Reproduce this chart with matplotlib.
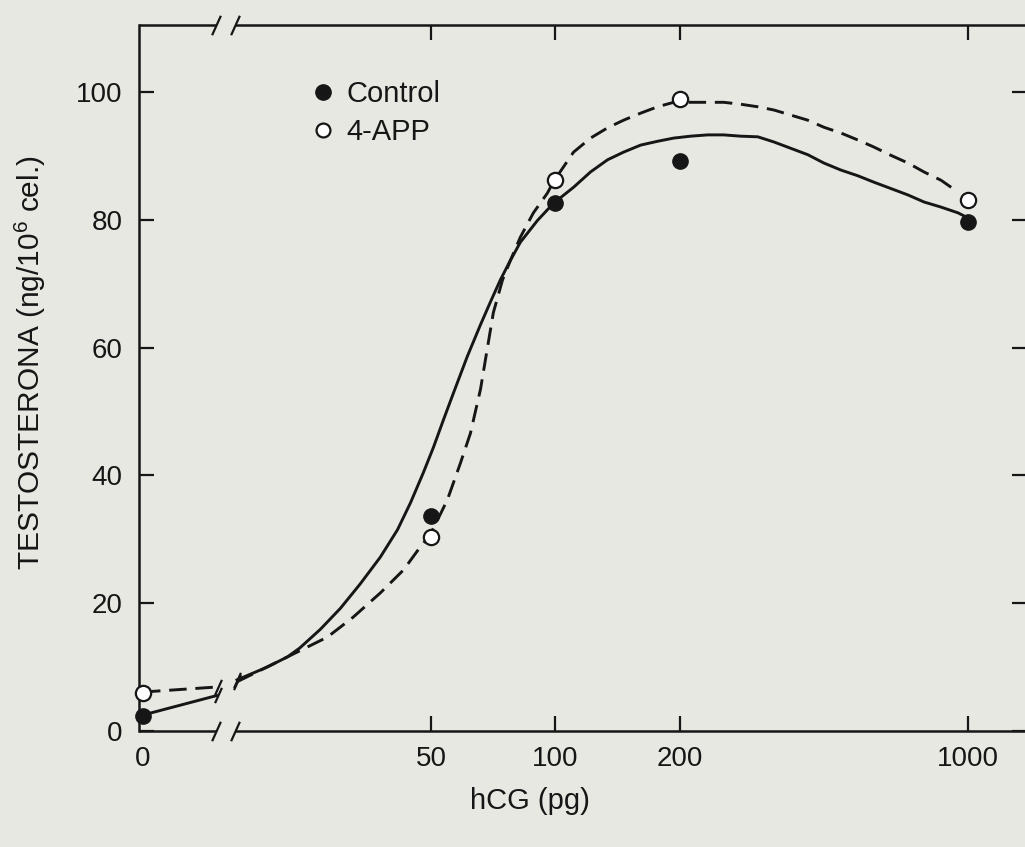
import numpy as np
import matplotlib
matplotlib.use("Agg")
import matplotlib.pyplot as plt
from matplotlib.lines import Line2D

plt.rcParams['font.family'] = ['Liberation Sans', 'DejaVu Sans']
plt.rcParams['mathtext.fontset'] = 'custom'
plt.rcParams['mathtext.rm'] = 'Liberation Sans'
plt.rcParams['mathtext.default'] = 'regular'

# data (hCG dose in pg, testosterone ng/10^6 cells)
dose = [0, 50, 100, 200, 1000]
control = [2.3, 33.6, 82.7, 89.2, 79.7]
app4 = [5.9, 30.3, 86.2, 98.9, 83.1]

# hand-drawn fitted curves
ctrl_lo_x = [0, 15.2]
ctrl_lo_y = [2.5, 5.6]
ctrl_x = [16.9, 20.0, 22.4, 24.0, 26.9, 30.1, 33.6, 37.6, 41.4, 44.5, 47.8, 50.6,
          53.5, 56.5, 61.1, 65.8, 69.6, 73.5, 77.8, 82.2, 90.4, 98.9, 110.6,
          121.6, 133.7, 146.2, 160.8, 176.8, 193.4, 212.6, 233.8, 255.7, 281.2,
          309.3, 338.2, 371.9, 408.9, 447.2, 491.7, 540.8, 591.3, 650.4, 715.2,
          782.2, 860.2, 945.6, 1000]
ctrl_y = [8.0, 10.0, 11.6, 13.0, 15.9, 19.2, 23.0, 27.2, 31.5, 35.7, 40.4, 44.4,
          48.7, 52.8, 58.6, 63.6, 67.2, 70.6, 73.7, 76.5, 79.9, 82.6, 85.1,
          87.5, 89.4, 90.6, 91.7, 92.3, 92.8, 93.1, 93.3, 93.3, 93.1,
          93.0, 92.2, 91.2, 90.2, 88.9, 87.8, 86.9, 85.9, 84.9, 83.9,
          82.8, 82.0, 81.1, 80.3]

app_lo_x = [0, 15.2]
app_lo_y = [6.1, 6.9]
app_x = [16.9, 22.4, 28.0, 32.3, 37.6, 42.8, 47.0, 49.7, 54.7, 58.8, 62.2, 65.8,
         68.4, 70.7, 74.4, 77.8, 82.2, 88.4, 95.6, 98.9, 110.6, 121.6,
         133.7, 146.2, 160.8, 176.8, 193.4, 212.6, 233.8, 255.7, 281.2, 309.3,
         338.2, 371.9, 408.9, 447.2, 491.7, 540.8, 591.3, 650.4, 715.2, 782.2,
         860.2, 945.6]
app_y = [7.7, 11.6, 14.7, 17.8, 21.6, 25.2, 28.8, 30.7, 36.2, 41.9, 46.6, 53.5,
         60.0, 65.5, 70.6, 73.7, 77.3, 81.1, 84.2, 86.0, 90.6, 92.8,
         94.4, 95.6, 96.7, 97.7, 98.4, 98.4, 98.4, 98.4, 98.1, 97.7,
         97.2, 96.4, 95.6, 94.5, 93.6, 92.5, 91.4, 90.1, 88.9, 87.5,
         86.2, 84.35]

tick_doses = [0, 50, 100, 200, 1000]
tick_labels = ['0', '50', '100', '200', '1000']
break_lo, break_hi = 15.0, 16.7

def pos(x):
    # dose 0 sits at the place of 10 pg on the log axis
    x = np.asarray(x, dtype=float)
    return np.where(x == 0, 10.0, x)

bg = '#e8e8e3'
ink = '#161616'

fig = plt.figure(figsize=(10.25, 8.47), dpi=100, facecolor=bg)
ax = fig.add_axes([139 / 1025, 116 / 847, 888 / 1025, 706 / 847], facecolor=bg)
ax.set_xscale('log')
ax.set_xlim(9.78, 1390)
ax.set_ylim(0, 110.5)

slash = [(-0.45, -1), (0.45, 1)]

# curves
ax.plot(pos(ctrl_lo_x), ctrl_lo_y, color=ink, lw=2.1, solid_capstyle='butt')
ax.plot(pos(ctrl_x), ctrl_y, color=ink, lw=2.1)
ax.plot(pos(app_lo_x), app_lo_y, color=ink, lw=2.1, dashes=(6, 3))
ax.plot(pos(app_x), app_y, color=ink, lw=2.1, dashes=(6, 3))
# curve breaks
for xs, ys in [(ctrl_lo_x[-1:] + ctrl_x[:1], ctrl_lo_y[-1:] + ctrl_y[:1]),
               (app_lo_x[-1:] + app_x[:1], app_lo_y[-1:] + app_y[:1])]:
    ax.plot(pos(xs), ys, ls='none', marker=slash, ms=11, mew=1.6, color=ink)

# points
ax.plot(pos(dose), control, ls='none', marker='o', ms=11, mfc=ink, mec=ink,
        clip_on=False, zorder=5)
ax.plot(pos(dose), app4, ls='none', marker='o', ms=11, mfc='white', mec=ink,
        mew=1.6, clip_on=False, zorder=5)

# axis lines with breaks
for s in ['top', 'bottom', 'right']:
    ax.spines[s].set_visible(False)
ax.spines['left'].set_linewidth(1.8)
ax.spines['left'].set_color(ink)
tr = ax.get_xaxis_transform()
for yy in [0, 1]:
    ax.plot([9.78, break_lo], [yy, yy], transform=tr, color=ink, lw=1.8,
            clip_on=False, solid_capstyle='butt')
    ax.plot([break_hi, 1390], [yy, yy], transform=tr, color=ink, lw=1.8,
            clip_on=False, solid_capstyle='butt')
    ax.plot([break_lo, break_hi], [yy, yy], transform=tr, ls='none', marker=slash,
            ms=14, mew=1.6, color=ink, clip_on=False)

ax.set_xticks(pos(tick_doses))
ax.set_xticklabels(tick_labels)
ax.xaxis.set_minor_locator(matplotlib.ticker.NullLocator())
ax.set_yticks([0, 20, 40, 60, 80, 100])
ax.tick_params(axis='both', direction='in', length=11, width=1.6, color=ink,
               labelsize=20, labelcolor=ink, top=True, right=True)
ax.tick_params(axis='x', pad=11)
ax.tick_params(axis='y', pad=12)
ax.xaxis.get_major_ticks()[0].tick1line.set_visible(False)
ax.xaxis.get_major_ticks()[0].tick2line.set_visible(False)

ax.set_xlabel('hCG (pg)', fontsize=21, color=ink)
ax.xaxis.set_label_coords((530 - 139) / 888, -0.079)
ax.set_ylabel('TESTOSTERONA (ng/10$^6$ cel.)', fontsize=21.5, color=ink)
ax.yaxis.set_label_coords(-0.103, 0.521)

handles = [Line2D([], [], ls='none', marker='o', ms=11, mfc=ink, mec=ink),
           Line2D([], [], ls='none', marker='o', ms=10, mfc='white', mec=ink, mew=1.6)]
ax.legend(handles, ['Control', '4-APP'], loc='upper left',
          bbox_to_anchor=(0.194, 0.922), frameon=False, fontsize=21,
          handlelength=0.8, handletextpad=0.4, labelspacing=0.35, borderpad=0,
          borderaxespad=0, labelcolor=ink)

fig.savefig('out.png', dpi=100, facecolor=bg)
